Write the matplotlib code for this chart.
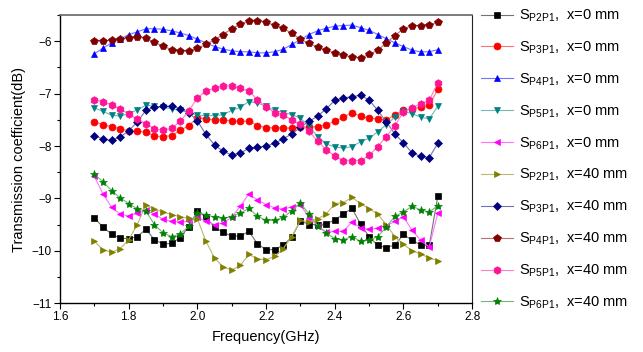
import numpy as np
import matplotlib.pyplot as plt
from matplotlib.ticker import MultipleLocator
from matplotlib.colors import to_rgb

plt.rcParams['font.family'] = ['Liberation Sans', 'DejaVu Sans']
plt.rcParams['mathtext.fontset'] = 'custom'
plt.rcParams['mathtext.rm'] = 'Liberation Sans'
plt.rcParams['mathtext.it'] = 'Liberation Sans'

# -- data (GHz / dB)
freq = np.round(1.7 + 0.025 * np.arange(41), 3)

p2_0 = [-9.37, -9.55, -9.68, -9.76, -9.77, -9.73, -9.59, -9.79, -9.87, -9.86, -9.75, -9.54, -9.24, -9.36,
        -9.55, -9.65, -9.72, -9.72, -9.63, -9.87, -9.98, -9.98, -9.89, -9.74, -9.43, -9.50, -9.50, -9.49,
        -9.41, -9.30, -9.19, -9.49, -9.73, -9.90, -9.94, -9.89, -9.69, -9.80, -9.89, -9.90, -8.96]
p3_0 = [-7.54, -7.59, -7.63, -7.67, -7.71, -7.72, -7.73, -7.81, -7.82, -7.80, -7.70, -7.61, -7.46, -7.48,
        -7.50, -7.50, -7.52, -7.53, -7.52, -7.61, -7.65, -7.65, -7.65, -7.66, -7.64, -7.64, -7.63, -7.59,
        -7.53, -7.45, -7.36, -7.43, -7.47, -7.48, -7.50, -7.41, -7.31, -7.29, -7.26, -7.22, -6.92]
p4_0 = [-6.24, -6.13, -6.03, -5.96, -5.87, -5.82, -5.76, -5.76, -5.77, -5.80, -5.84, -5.89, -5.96, -6.03,
        -6.10, -6.15, -6.18, -6.20, -6.20, -6.22, -6.22, -6.20, -6.15, -6.06, -5.97, -5.87, -5.80, -5.75,
        -5.71, -5.70, -5.69, -5.74, -5.79, -5.87, -5.95, -6.03, -6.10, -6.17, -6.20, -6.20, -6.16]
p5_0 = [-7.27, -7.34, -7.41, -7.43, -7.38, -7.31, -7.22, -7.24, -7.26, -7.29, -7.32, -7.36, -7.41, -7.42,
        -7.42, -7.40, -7.32, -7.26, -7.15, -7.18, -7.24, -7.32, -7.36, -7.40, -7.47, -7.62, -7.82, -7.96,
        -8.02, -8.04, -8.01, -7.92, -7.85, -7.73, -7.59, -7.45, -7.34, -7.38, -7.45, -7.48, -7.24]
p6_0 = [-8.58, -8.91, -9.17, -9.30, -9.34, -9.28, -9.23, -9.30, -9.40, -9.44, -9.45, -9.44, -9.36, -9.44,
        -9.50, -9.47, -9.36, -9.15, -8.91, -9.03, -9.12, -9.18, -9.21, -9.16, -9.12, -9.37, -9.52, -9.65,
        -9.63, -9.63, -9.45, -9.56, -9.59, -9.57, -9.52, -9.44, -9.35, -9.61, -9.80, -9.93, -9.28]
p2_40 = [-9.82, -9.98, -10.03, -9.96, -9.79, -9.50, -9.12, -9.21, -9.26, -9.31, -9.35, -9.38, -9.39, -9.82,
         -10.14, -10.31, -10.37, -10.28, -10.07, -10.16, -10.17, -10.11, -9.96, -9.73, -9.42, -9.45, -9.39,
         -9.30, -9.10, -9.08, -8.98, -9.10, -9.20, -9.30, -9.50, -9.73, -9.88, -10.00, -10.06, -10.14, -10.19]
p3_40 = [-7.80, -7.87, -7.89, -7.83, -7.71, -7.54, -7.32, -7.26, -7.24, -7.24, -7.29, -7.36, -7.52, -7.78,
         -7.98, -8.10, -8.17, -8.14, -8.04, -8.02, -8.00, -7.95, -7.86, -7.77, -7.64, -7.53, -7.43, -7.29,
         -7.13, -7.08, -7.06, -7.03, -7.12, -7.32, -7.54, -7.77, -7.94, -8.13, -8.20, -8.22, -7.95]
p4_40 = [-5.99, -5.99, -5.98, -5.955, -5.93, -5.92, -5.94, -6.02, -6.09, -6.16, -6.19, -6.18, -6.13, -6.06,
         -5.97, -5.87, -5.76, -5.67, -5.61, -5.61, -5.64, -5.69, -5.75, -5.85, -5.96, -6.04, -6.11, -6.17,
         -6.22, -6.26, -6.30, -6.32, -6.25, -6.17, -6.03, -5.89, -5.76, -5.70, -5.70, -5.69, -5.63]
p5_40 = [-7.115, -7.15, -7.21, -7.29, -7.39, -7.49, -7.57, -7.67, -7.70, -7.66, -7.53, -7.33, -7.08, -6.95,
         -6.89, -6.85, -6.855, -6.90, -6.95, -7.115, -7.26, -7.36, -7.41, -7.50, -7.58, -7.72, -7.90, -8.07,
         -8.19, -8.28, -8.28, -8.28, -8.18, -8.01, -7.82, -7.61, -7.35, -7.27, -7.19, -7.13, -6.79]
p6_40 = [-8.54, -8.68, -8.85, -8.99, -9.10, -9.20, -9.24, -9.50, -9.66, -9.73, -9.68, -9.53, -9.28, -9.31,
         -9.36, -9.38, -9.35, -9.28, -9.19, -9.34, -9.42, -9.42, -9.36, -9.24, -9.09, -9.30, -9.52, -9.66,
         -9.77, -9.79, -9.73, -9.82, -9.80, -9.73, -9.55, -9.34, -9.26, -9.15, -9.22, -9.26, -9.14]

series = [p2_0, p3_0, p4_0, p5_0, p6_0, p2_40, p3_40, p4_40, p5_40, p6_40]
ports = ['P2P1', 'P3P1', 'P4P1', 'P5P1', 'P6P1'] * 2
dists = ['0'] * 5 + ['40'] * 5
colors = ['#000000', '#ff0000', '#0000ff', '#008080', '#ff00ff',
          '#808000', '#000080', '#800000', '#ff1493', '#008000']
markers = ['s', 'o', '^', 'v', '<', '>', 'D', 'p', 'h', '*']
msizes = [4.5, 5, 5, 5, 5, 5, 4.5, 5.5, 5.5, 6]


def lighten(c, f=0.45):
    r, g, b = to_rgb(c)
    return (r + (1 - r) * f, g + (1 - g) * f, b + (1 - b) * f)


# -- plot
fig = plt.figure(figsize=(6.43, 3.52), dpi=100)
ax = fig.add_axes([0.0933, 0.139, 0.641, 0.818])

for y, port, d, c, m, ms in zip(series, ports, dists, colors, markers, msizes):
    ax.plot(freq, y, color=lighten(c), lw=0.8, marker=m, ms=ms, mfc=c, mec=c, mew=0.5,
            label=r'$\mathregular{S_{%s}}$,  x=%s mm' % (port, d))

ax.set_xlim(1.6, 2.8)
ax.set_ylim(-11, -5.5)
ax.xaxis.set_minor_locator(MultipleLocator(0.1))
ax.yaxis.set_major_locator(MultipleLocator(1))
ax.yaxis.set_minor_locator(MultipleLocator(0.5))
ax.set_xticks(np.arange(1.6, 2.81, 0.2))
ax.set_xticklabels(['1.6', '1.8', '2.0', '2.2', '2.4', '2.6', '2.8'])
ax.tick_params(which='major', direction='out', length=4, width=0.8, labelsize=8.5, pad=2)
ax.tick_params(which='minor', direction='out', length=2.5, width=0.8)
ax.spines['top'].set_color('#666666')
ax.spines['top'].set_linewidth(1.2)
ax.spines['right'].set_color('#222222')
ax.spines['left'].set_linewidth(1.0)
ax.spines['bottom'].set_linewidth(1.0)

ax.set_xlabel('Frequency(GHz)', fontsize=10.5, labelpad=5)
ax.set_ylabel('Transmission coefficient(dB)', fontsize=10.5, labelpad=4)

ax.legend(loc='upper left', bbox_to_anchor=(0.748, 0.978), bbox_transform=fig.transFigure,
          frameon=False, fontsize=10.5, handlelength=2.2, handletextpad=0.4,
          labelspacing=1.06, borderpad=0, borderaxespad=0)

fig.savefig('out.png', dpi=100)
